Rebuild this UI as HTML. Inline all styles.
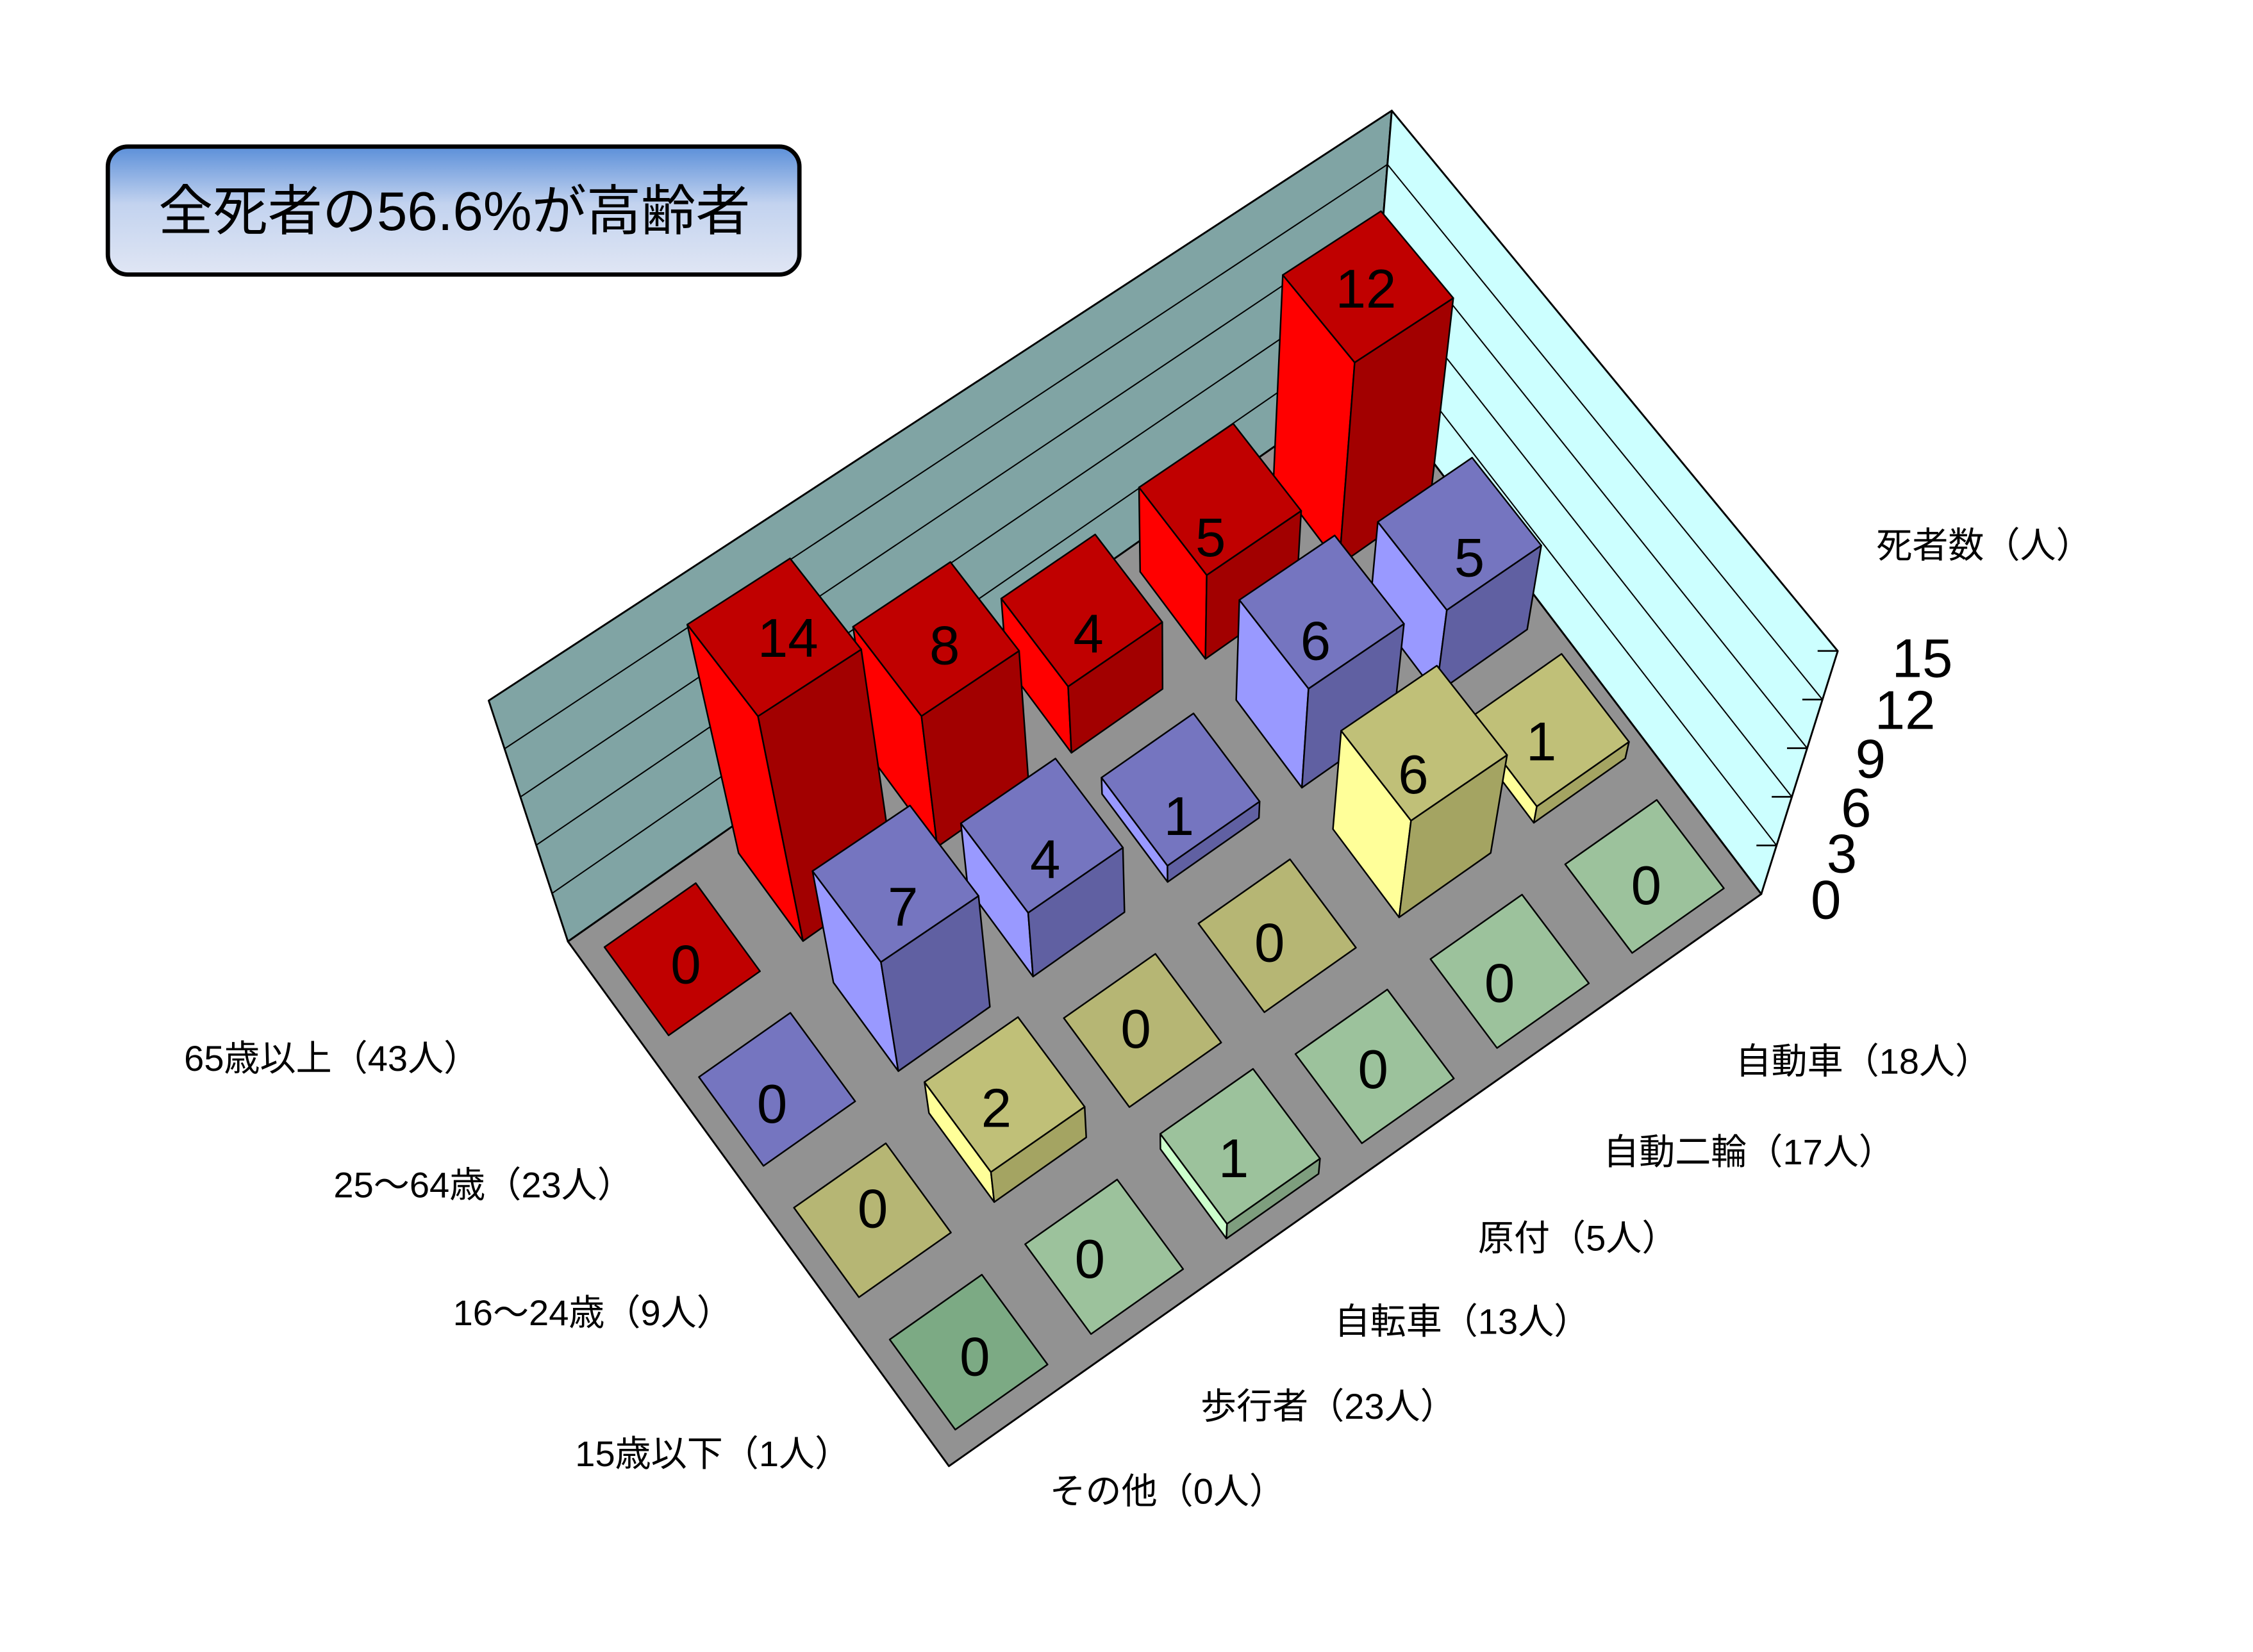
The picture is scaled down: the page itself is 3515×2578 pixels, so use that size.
<!DOCTYPE html>
<html><head><meta charset="utf-8">
<style>
html,body{margin:0;padding:0;background:#fff;}
svg{display:block;}
text{font-family:"Liberation Sans","Noto Sans CJK JP",sans-serif;fill:#000;}
.n{font-size:38px;text-anchor:middle;}
.lb{font-size:25px;}
</style></head>
<body>
<svg id="s" xmlns="http://www.w3.org/2000/svg" width="3515" height="2578" viewBox="0 0 1567 1149.3">
<defs>
<linearGradient id="tg" x1="0" y1="0" x2="0" y2="1">
<stop offset="0" stop-color="#5b8fd9"/>
<stop offset="0.45" stop-color="#c3d3ef"/>
<stop offset="1" stop-color="#e0e6f4"/>
</linearGradient>
</defs>
<g id="shapes"></g>
<rect x="75" y="102" width="481" height="89" rx="14" fill="url(#tg)" stroke="#000" stroke-width="3"/>
<text x="316" y="160" style="font-size:38px;text-anchor:middle">全死者の56.6%が高齢者</text>

<g class="n">
<text class="n" x="477" y="684">0</text>
<text class="n" x="548" y="457">14</text>
<text class="n" x="657" y="462">8</text>
<text class="n" x="757" y="454">4</text>
<text class="n" x="842" y="387">5</text>
<text class="n" x="950" y="214">12</text>
<text class="n" x="537" y="781">0</text>
<text class="n" x="628" y="644">7</text>
<text class="n" x="727" y="611">4</text>
<text class="n" x="820" y="581">1</text>
<text class="n" x="915" y="459">6</text>
<text class="n" x="1022" y="401">5</text>
<text class="n" x="607" y="854">0</text>
<text class="n" x="693" y="784">2</text>
<text class="n" x="790" y="729">0</text>
<text class="n" x="883" y="669">0</text>
<text class="n" x="983" y="552">6</text>
<text class="n" x="1072" y="529">1</text>
<text class="n" x="678" y="957">0</text>
<text class="n" x="758" y="889">0</text>
<text class="n" x="858" y="819">1</text>
<text class="n" x="955" y="757">0</text>
<text class="n" x="1043" y="697">0</text>
<text class="n" x="1145" y="629">0</text>
</g>

<text class="n" x="1270" y="639">0</text>
<text class="n" x="1281" y="607">3</text>
<text class="n" x="1291" y="575">6</text>
<text class="n" x="1301" y="541">9</text>
<text class="n" x="1325" y="507">12</text>
<text class="n" x="1337" y="471">15</text>

<text class="lb" x="1305" y="388">死者数（人）</text>
<text class="lb" x="128" y="745">65歳以上（43人）</text>
<text class="lb" x="232" y="833">25～64歳（23人）</text>
<text class="lb" x="315" y="922">16～24歳（9人）</text>
<text class="lb" x="400" y="1020">15歳以下（1人）</text>
<text class="lb" x="1207" y="747">自動車（18人）</text>
<text class="lb" x="1115" y="810">自動二輪（17人）</text>
<text class="lb" x="1028" y="870">原付（5人）</text>
<text class="lb" x="928" y="928">自転車（13人）</text>
<text class="lb" x="835" y="987">歩行者（23人）</text>
<text class="lb" x="730" y="1046">その他（0人）</text>
</svg>
<script>
(function(){
var NS="http://www.w3.org/2000/svg";
var G=document.getElementById("shapes");
var V=[814,1929];
var L=[395,655],B=[953,264],R=[1225,622],F=[660,1020];
var BT=[968,77];
var dx1=B[0]-R[0],dx2=F[0]-R[0],dx3=L[0]-B[0]+R[0]-F[0];
var dy1=B[1]-R[1],dy2=F[1]-R[1],dy3=L[1]-B[1]+R[1]-F[1];
var den=dx1*dy2-dx2*dy1;
var g=(dx3*dy2-dx2*dy3)/den,h=(dx1*dy3-dx3*dy1)/den;
var a=B[0]-L[0]+g*B[0],b=F[0]-L[0]+h*F[0],c=L[0];
var d=B[1]-L[1]+g*B[1],e=F[1]-L[1]+h*F[1],f=L[1];
function fl(s,t){var u=s/6,v=t/4;var w=g*u+h*v+1;return [(a*u+b*v+c)/w,(d*u+e*v+f)/w];}
function up(p,hh){var k=hh*(0.00763+(p[1]-390)*4.3e-6);return [p[0]+(p[0]-V[0])*k,p[1]+(p[1]-V[1])*k];}
function upB(k){return [B[0]+(BT[0]-B[0])*k/15,B[1]+(BT[1]-B[1])*k/15];}
function poly(pts,fill,sw){var el=document.createElementNS(NS,"polygon");
el.setAttribute("points",pts.map(function(p){return p[0].toFixed(1)+","+p[1].toFixed(1);}).join(" "));
el.setAttribute("fill",fill);el.setAttribute("stroke","#000");el.setAttribute("stroke-width",sw||1.1);
el.setAttribute("stroke-linejoin","round");G.appendChild(el);}
function line(p,q,sw){var el=document.createElementNS(NS,"line");
el.setAttribute("x1",p[0]);el.setAttribute("y1",p[1]);el.setAttribute("x2",q[0]);el.setAttribute("y2",q[1]);
el.setAttribute("stroke","#000");el.setAttribute("stroke-width",sw||0.9);G.appendChild(el);}
poly([L,B,upB(15),up(L,15)],"#80a4a4",1.3);
poly([B,R,up(R,15),upB(15)],"#ccffff",1.3);
[3,6,9,12].forEach(function(k){
 line(up(L,k),upB(k),0.9);line(upB(k),up(R,k),0.9);
});
[0,3,6,9,12,15].forEach(function(k){var p=up(R,k);line([p[0]-14,p[1]],p,1.2);});
poly([L,B,R,F],"#929292",1.3);
var data=[[0,14,8,4,5,12],[0,7,4,1,6,5],[0,2,0,0,6,1],[0,0,1,0,0,0]];
var cols=[
 {top:"#c00000",left:"#ff0000",front:"#a20000"},
 {top:"#7575c0",left:"#9999ff",front:"#6060a2"},
 {top:"#c0c078",left:"#ffff99",front:"#a4a462"},
 {top:"#9cc29c",left:"#ccffcc",front:"#7e9e7e"}];
var ins=0.16;
for(var r=0;r<4;r++){for(var cc=5;cc>=0;cc--){
 var v=data[r][cc],C=cols[r];
 var p0=fl(cc+ins,r+ins),p1=fl(cc+1-ins,r+ins),p2=fl(cc+1-ins,r+1-ins),p3=fl(cc+ins,r+1-ins);
 if(v===0){var tc=C.top;
   if(r===2)tc="#b6b674";
   if(r===3&&cc===0)tc="#7caa84";
   poly([p0,p1,p2,p3],tc);continue;}
 var q0=up(p0,v),q1=up(p1,v),q2=up(p2,v),q3=up(p3,v);
 poly([p0,p3,q3,q0],C.left);
 poly([p3,p2,q2,q3],C.front);
 poly([q0,q1,q2,q3],C.top);
}}
})();
</script>
</body></html>
